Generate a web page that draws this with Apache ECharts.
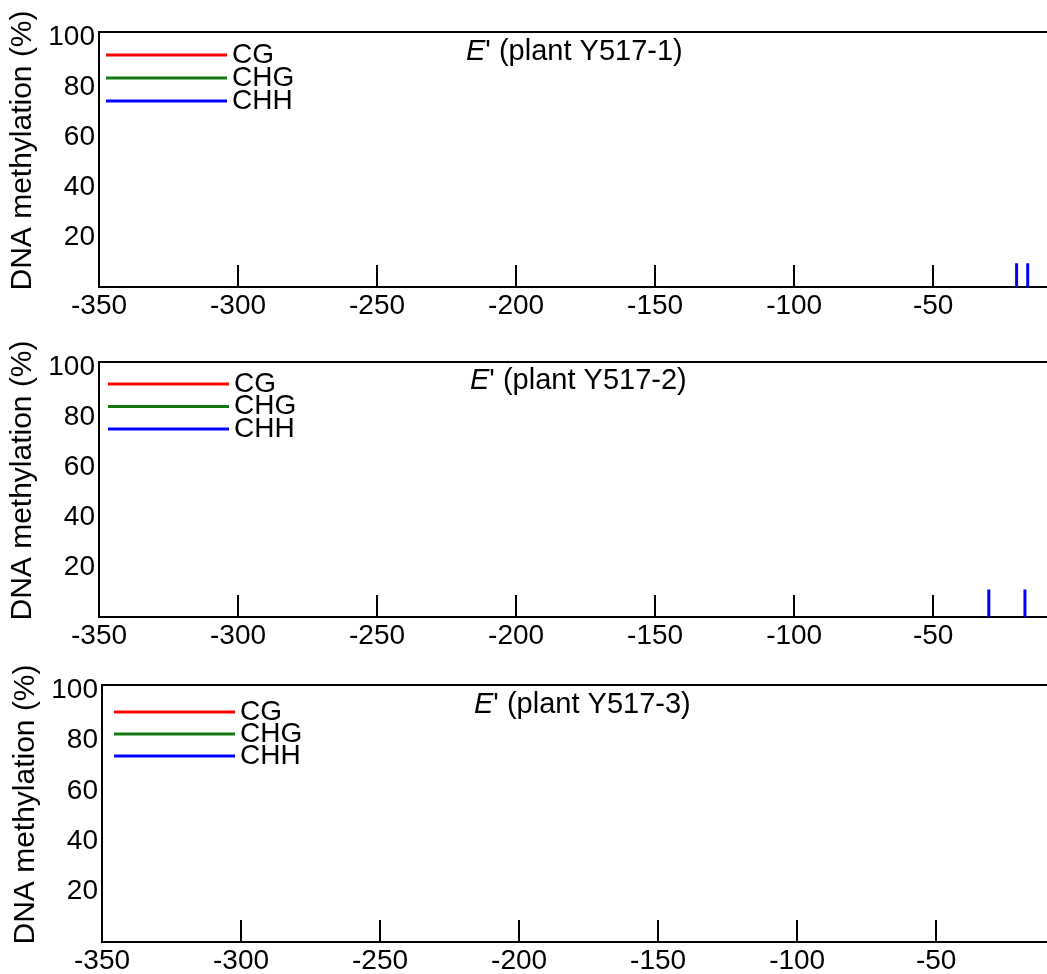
<!DOCTYPE html>
<html>
<head>
<meta charset="utf-8">
<script src="https://cdn.jsdelivr.net/npm/echarts@6/dist/echarts.min.js"></script>
<style>html,body{margin:0;padding:0;background:#fff;}#c{width:1047px;height:974px;}</style>
</head>
<body>
<div id="c"></div>
<script>
// ---- data ----
const seriesNames = ['CG', 'CHG', 'CHH'];
const xTickLabels = [-350, -300, -250, -200, -150, -100, -50, 1];
const xTickMarks = [-300, -250, -200, -150, -100, -50];
const yTickLabels = [20, 40, 60, 80, 100];
const panelPlants = ['Y517-1', 'Y517-2', 'Y517-3'];
// positions (bp relative to TSS) and methylation (%) per context
const cgPos1 = [], cgVal1 = [];
const chgPos1 = [], chgVal1 = [];
const chhPos1 = [-20, -16], chhVal1 = [9.5, 9.5];
const cgPos2 = [], cgVal2 = [];
const chgPos2 = [], chgVal2 = [];
const chhPos2 = [-30, -17], chhVal2 = [11, 11];
const cgPos3 = [], cgVal3 = [];
const chgPos3 = [], chgVal3 = [];
const chhPos3 = [], chhVal3 = [];

const panels = [
  {cg: [cgPos1, cgVal1], chg: [chgPos1, chgVal1], chh: [chhPos1, chhVal1]},
  {cg: [cgPos2, cgVal2], chg: [chgPos2, chgVal2], chh: [chhPos2, chhVal2]},
  {cg: [cgPos3, cgVal3], chg: [chgPos3, chgVal3], chh: [chhPos3, chhVal3]}
];

// ---- layout ----
const FONT = 'Liberation Sans, Arial, sans-serif';
const layout = [
  {left: 99, top: 32, height: 255, width: 976, legendLeft: 106, legendTop: 41, gap: -5, titleLeft: 466, titleTop: 37},
  {left: 99, top: 362, height: 255, width: 976, legendLeft: 108, legendTop: 370, gap: -5.5, titleLeft: 470, titleTop: 366},
  {left: 102, top: 685, height: 257, width: 976, legendLeft: 114, legendTop: 698, gap: -6, titleLeft: 474, titleTop: 690}
];
const colors = {CG: '#ff0000', CHG: '#107a10', CHH: '#0000ff'};

const zip = (xs, ys) => xs.map((x, i) => [x, ys[i]]);

const grid = [], xAxis = [], yAxis = [], series = [], legend = [], title = [];
layout.forEach((L, i) => {
  grid.push({left: L.left, top: L.top, height: L.height, width: L.width,
    outerBoundsMode: 'none', containLabel: false,
    show: true, borderColor: '#000', borderWidth: 2, backgroundColor: 'transparent'});
  xAxis.push({
    type: 'value', gridIndex: i, min: -350, max: 1,
    axisLine: {show: true, lineStyle: {color: '#000', width: 2}},
    axisTick: {show: true, inside: true, length: 22, customValues: xTickMarks, lineStyle: {color: '#000', width: 2}},
    axisLabel: {show: true, customValues: xTickLabels, color: '#000', fontSize: 28, fontFamily: FONT, margin: 5},
    splitLine: {show: false}
  });
  yAxis.push({
    type: 'value', gridIndex: i, min: 0, max: 102, interval: 20,
    name: 'DNA methylation (%)', nameLocation: 'middle', nameGap: 58, nameRotate: 90,
    nameTextStyle: {color: '#000', fontSize: 30, fontFamily: FONT, padding: [0, 0, 0, 18]},
    axisLine: {show: true, lineStyle: {color: '#000', width: 2}},
    axisTick: {show: true, inside: true, length: 4, customValues: yTickLabels, lineStyle: {color: '#000', width: 1}},
    axisLabel: {show: true, customValues: yTickLabels, color: '#000', fontSize: 28, fontFamily: FONT, margin: 4},
    splitLine: {show: false}
  });
  const p = panels[i];
  series.push({name: 'CG', type: 'line', xAxisIndex: i, yAxisIndex: i, color: colors.CG, showSymbol: false, data: zip(p.cg[0], p.cg[1])});
  series.push({name: 'CHG', type: 'line', xAxisIndex: i, yAxisIndex: i, color: colors.CHG, showSymbol: false, data: zip(p.chg[0], p.chg[1])});
  series.push({name: 'CHH', type: 'bar', xAxisIndex: i, yAxisIndex: i, color: colors.CHH, barWidth: 3, data: zip(p.chh[0], p.chh[1])});
  legend.push({
    data: seriesNames, orient: 'vertical', left: L.legendLeft, top: L.legendTop, padding: 0,
    icon: 'rect', itemWidth: 121, itemHeight: 3, itemGap: L.gap, selectedMode: false,
    textStyle: {color: '#000', fontSize: 28, fontFamily: FONT}
  });
  title.push({
    text: '{e|E}{s|\'} (plant ' + panelPlants[i] + ')', left: L.titleLeft, top: L.titleTop, padding: 0,
    textStyle: {color: '#000', fontSize: 29, fontFamily: FONT, fontWeight: 'normal',
      rich: {e: {fontStyle: 'italic', fontSize: 29, fontFamily: FONT, color: '#000'},
             s: {fontSize: 29, fontFamily: FONT, color: '#000'}}}
  });
});

const chart = echarts.init(document.getElementById('c'), null, {renderer: 'canvas'});
chart.setOption({backgroundColor: '#fff', animation: false, title, grid, xAxis, yAxis, legend, series});
</script>
</body>
</html>
